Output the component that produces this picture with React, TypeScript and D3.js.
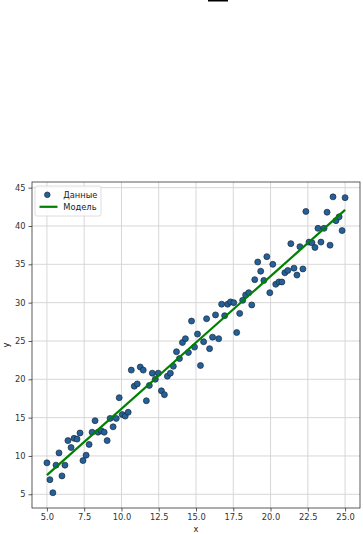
import { useEffect, useRef } from 'react'
import * as d3 from 'd3'

// --- DATA ---
const xValues = [
  5.0, 5.2, 5.4, 5.61, 5.81, 6.01, 6.21, 6.41, 6.62, 6.82,
  7.02, 7.22, 7.42, 7.63, 7.83, 8.03, 8.23, 8.43, 8.64, 8.84,
  9.04, 9.24, 9.44, 9.65, 9.85, 10.05, 10.25, 10.45, 10.66, 10.86,
  11.06, 11.26, 11.46, 11.67, 11.87, 12.07, 12.27, 12.47, 12.68, 12.88,
  13.08, 13.28, 13.48, 13.69, 13.89, 14.09, 14.29, 14.49, 14.7, 14.9,
  15.1, 15.3, 15.51, 15.71, 15.91, 16.11, 16.31, 16.52, 16.72, 16.92,
  17.12, 17.32, 17.53, 17.73, 17.93, 18.13, 18.33, 18.54, 18.74, 18.94,
  19.14, 19.34, 19.55, 19.75, 19.95, 20.15, 20.35, 20.56, 20.76, 20.96,
  21.16, 21.36, 21.57, 21.77, 21.97, 22.17, 22.37, 22.58, 22.78, 22.98,
  23.18, 23.38, 23.59, 23.79, 23.99, 24.19, 24.39, 24.6, 24.8, 25.0,
]

const yValues = [
  9.1, 6.9, 5.2, 8.8, 10.4, 7.4, 8.8, 12.0, 11.1, 12.3,
  12.2, 13.0, 9.4, 10.1, 11.5, 13.1, 14.6, 13.1, 13.3, 13.1,
  12.0, 14.9, 13.8, 14.9, 17.6, 15.4, 15.2, 15.7, 21.2, 19.1,
  19.4, 21.6, 21.2, 17.2, 19.2, 20.8, 20.0, 20.8, 18.5, 18.0,
  20.4, 20.8, 21.7, 23.6, 22.7, 24.8, 25.3, 23.5, 27.6, 24.2,
  25.9, 21.8, 24.9, 27.9, 24.0, 25.5, 28.4, 25.3, 29.8, 28.3,
  29.8, 30.1, 30.0, 26.1, 28.6, 30.3, 31.0, 31.3, 29.7, 33.0,
  35.3, 34.1, 32.9, 36.0, 31.3, 35.0, 32.4, 32.7, 32.7, 33.9,
  34.2, 37.7, 34.5, 33.6, 37.3, 34.4, 41.9, 37.9, 37.8, 37.2,
  39.7, 37.9, 39.7, 41.8, 37.5, 43.8, 40.7, 41.2, 39.4, 43.7,
]

// fitted model line, endpoints
const modelX = [5.0, 25.0]
const modelY = [7.5, 42.1]

const xTicks = [5.0, 7.5, 10.0, 12.5, 15.0, 17.5, 20.0, 22.5, 25.0]
const yTicks = [5, 10, 15, 20, 25, 30, 35, 40, 45]

const legendLabels = ['Данные', 'Модель']

const FONT = '"DejaVu Sans", sans-serif'
const FONT_SIZE = 8.3
const POINT_COLOR = '#24609a'
const LINE_COLOR = '#008000'

export default function App() {
  const svgRef = useRef<SVGSVGElement | null>(null)

  useEffect(() => {
    if (!svgRef.current) return

    const width = 363
    const height = 534
    const plot = { left: 32, right: 360, top: 182, bottom: 508 }

    const svg = d3.select<SVGSVGElement, unknown>(svgRef.current)
    svg.selectAll('*').remove()
    svg.attr('width', width).attr('height', height)

    svg.append('rect').attr('width', width).attr('height', height).attr('fill', '#fff')

    // stray mark at the very top of the picture
    svg.append('rect').attr('x', 208).attr('y', 0).attr('width', 20).attr('height', 1.5).attr('fill', '#000')

    // --- SCALES ---
    const x = d3.scaleLinear().domain([4, 26]).range([plot.left, plot.right])
    const y = d3.scaleLinear().domain([3.21, 45.74]).range([plot.bottom, plot.top])

    // --- GRID ---
    const grid = svg.append('g')
    grid
      .selectAll('line.gx')
      .data(xTicks)
      .enter()
      .append('line')
      .attr('x1', (d) => x(d))
      .attr('x2', (d) => x(d))
      .attr('y1', plot.top)
      .attr('y2', plot.bottom)
      .attr('stroke', '#d2d2d2')
      .attr('stroke-width', 0.9)
    grid
      .selectAll('line.gy')
      .data(yTicks)
      .enter()
      .append('line')
      .attr('x1', plot.left)
      .attr('x2', plot.right)
      .attr('y1', (d) => y(d))
      .attr('y2', (d) => y(d))
      .attr('stroke', '#d2d2d2')
      .attr('stroke-width', 0.9)

    // --- AXES ---
    const xAxis = d3
      .axisBottom(x)
      .tickValues(xTicks)
      .tickFormat((d) => d3.format('.1f')(d as number))
      .tickSize(3.5)
      .tickPadding(3)
    const yAxis = d3
      .axisLeft(y)
      .tickValues(yTicks)
      .tickFormat((d) => String(d))
      .tickSize(3.5)
      .tickPadding(3)

    const gx = svg.append('g').attr('transform', `translate(0, ${plot.bottom})`).call(xAxis)
    const gy = svg.append('g').attr('transform', `translate(${plot.left}, 0)`).call(yAxis)
    ;[gx, gy].forEach((g) => {
      g.select('.domain').remove()
      g.selectAll('line').attr('stroke', '#333').attr('stroke-width', 0.8)
      g.selectAll('text')
        .attr('fill', '#333')
        .style('font-family', FONT)
        .style('font-size', `${FONT_SIZE}px`)
    })

    // --- POINTS ---
    svg
      .append('g')
      .selectAll('circle')
      .data(xValues)
      .enter()
      .append('circle')
      .attr('cx', (d) => x(d))
      .attr('cy', (_d, i) => y(yValues[i]))
      .attr('r', 3)
      .attr('fill', POINT_COLOR)
      .attr('stroke', '#1a2a3a')
      .attr('stroke-width', 0.7)

    // --- MODEL LINE ---
    const line = d3
      .line<number>()
      .x((d) => x(d))
      .y((_d, i) => y(modelY[i]))
    svg
      .append('path')
      .datum(modelX)
      .attr('d', line)
      .attr('fill', 'none')
      .attr('stroke', LINE_COLOR)
      .attr('stroke-width', 2.2)

    // --- FRAME ---
    svg
      .append('rect')
      .attr('x', plot.left)
      .attr('y', plot.top)
      .attr('width', plot.right - plot.left)
      .attr('height', plot.bottom - plot.top)
      .attr('fill', 'none')
      .attr('stroke', '#333')
      .attr('stroke-width', 0.8)

    // --- LEGEND ---
    const legend = svg.append('g').attr('transform', 'translate(35, 186)')
    legend
      .append('rect')
      .attr('width', 66)
      .attr('height', 30)
      .attr('rx', 2)
      .attr('fill', 'rgba(255,255,255,0.8)')
      .attr('stroke', '#d6d6d6')
      .attr('stroke-width', 0.8)
    legend
      .append('circle')
      .attr('cx', 12.3)
      .attr('cy', 8.8)
      .attr('r', 2.8)
      .attr('fill', POINT_COLOR)
      .attr('stroke', '#1a2a3a')
      .attr('stroke-width', 0.7)
    legend
      .append('line')
      .attr('x1', 4.5)
      .attr('x2', 22.5)
      .attr('y1', 20.8)
      .attr('y2', 20.8)
      .attr('stroke', LINE_COLOR)
      .attr('stroke-width', 2.2)
    legend
      .selectAll('text')
      .data(legendLabels)
      .enter()
      .append('text')
      .attr('x', 28.3)
      .attr('y', (_d, i) => 8.8 + i * 12)
      .attr('dy', '0.35em')
      .attr('fill', '#222')
      .style('font-family', FONT)
      .style('font-size', `${FONT_SIZE}px`)
      .text((d) => d)

    // --- AXIS LABELS ---
    svg
      .append('text')
      .attr('x', (plot.left + plot.right) / 2)
      .attr('y', 532)
      .attr('text-anchor', 'middle')
      .attr('fill', '#222')
      .style('font-family', FONT)
      .style('font-size', `${FONT_SIZE}px`)
      .text('x')
    svg
      .append('text')
      .attr('transform', `translate(9, ${(plot.top + plot.bottom) / 2}) rotate(-90)`)
      .attr('text-anchor', 'middle')
      .attr('fill', '#222')
      .style('font-family', FONT)
      .style('font-size', `${FONT_SIZE}px`)
      .text('y')
  }, [])

  return (
    <div style={{ position: 'absolute', left: 0, top: 0 }}>
      <svg ref={svgRef} style={{ display: 'block' }} />
    </div>
  )
}
